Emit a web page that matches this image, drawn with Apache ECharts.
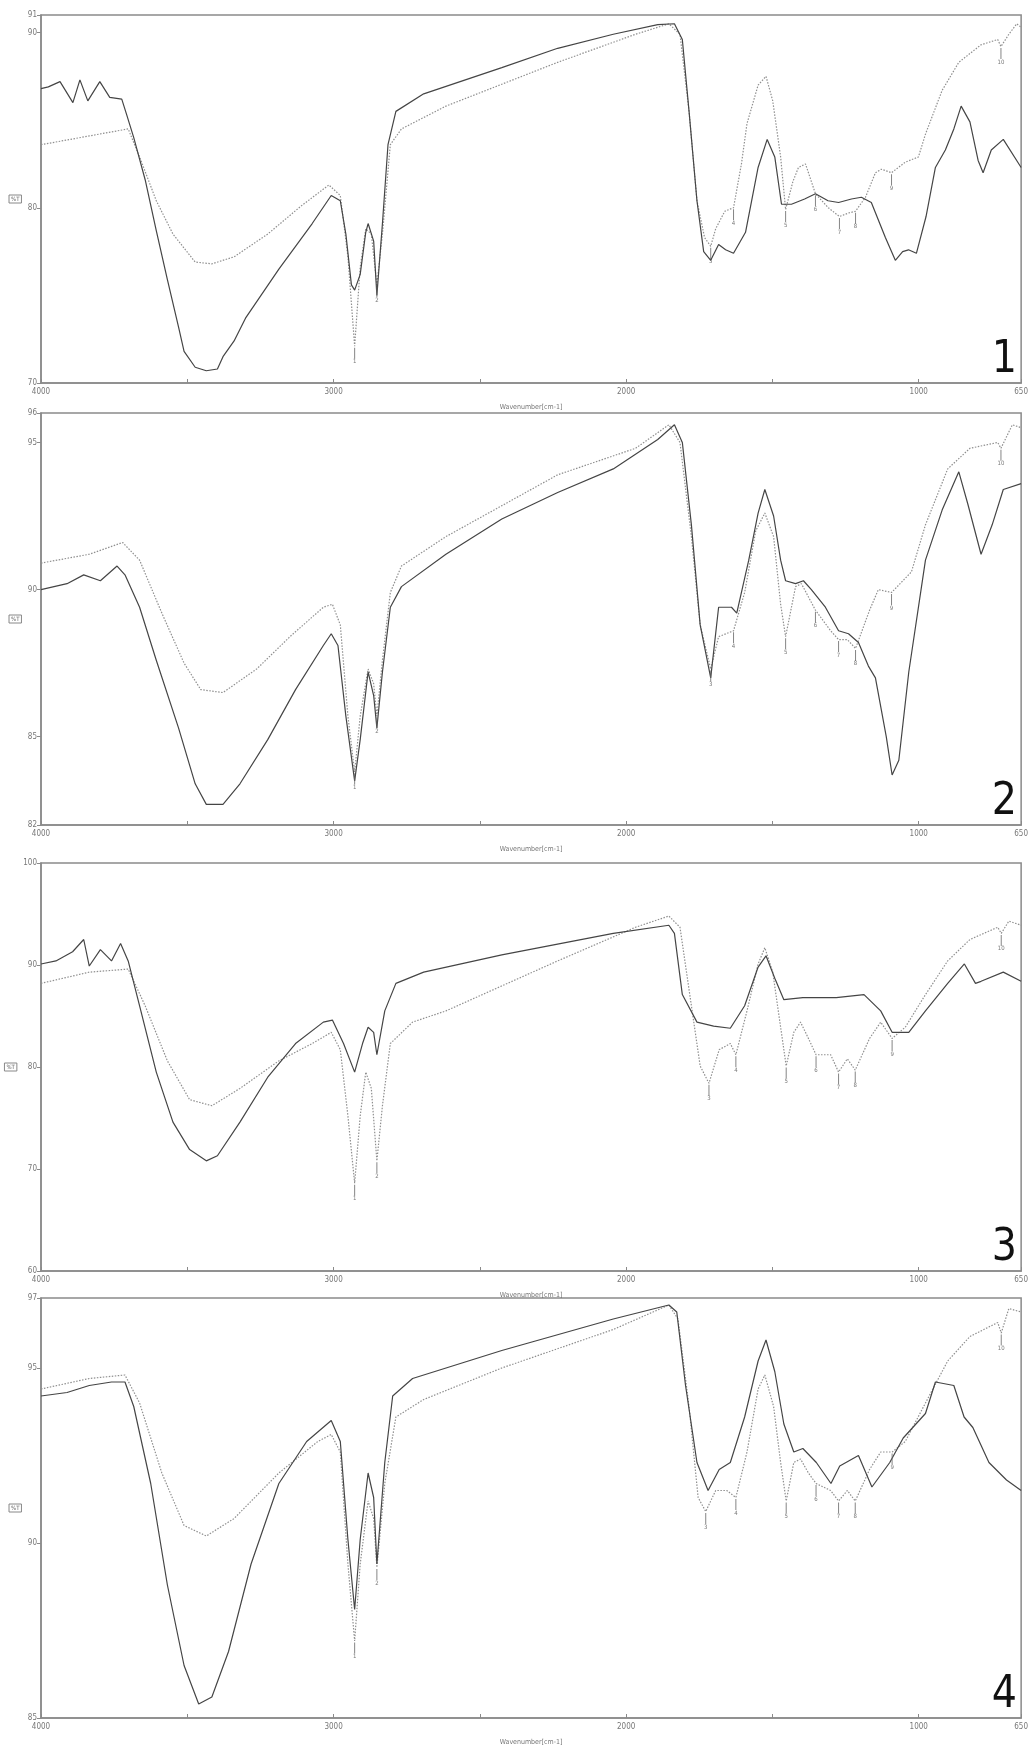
<!DOCTYPE html>
<html><head><meta charset="utf-8">
<script src="https://cdn.jsdelivr.net/npm/echarts@6/dist/echarts.min.js"></script>
<style>html,body{margin:0;padding:0;background:#fff}#c{width:1031px;height:1751px}</style>
</head><body><div id="c"></div>
<script>
// ---------- DATA ----------
const xLabelVals = [4000, 3000, 2000, 1000, 650];
const xTickVals = [4000, 3500, 3000, 2500, 2000, 1500, 1000, 650];
const panelNames = ['1', '2', '3', '4'];
const yRanges = [[70, 91], [82, 96], [60, 100], [85, 97]];
const yLabels = [[70, 80, 90, 91], [82, 85, 90, 95, 96], [60, 70, 80, 90, 100], [85, 90, 95, 97]];
const peakNums = [1, 2, 3, 4, 5, 6, 7, 8, 9, 10];

const p1Solid = [[4000,86.8],[3975,86.9],[3935,87.2],[3891,86.0],[3867,87.3],[3840,86.1],[3799,87.2],[3765,86.3],[3724,86.2],[3707,85.3],[3683,84.0],[3644,81.6],[3606,78.7],[3568,75.9],[3530,73.2],[3511,71.8],[3473,70.9],[3435,70.7],[3397,70.8],[3378,71.5],[3340,72.4],[3301,73.7],[3187,76.5],[3073,79.1],[3008,80.7],[2977,80.4],[2958,78.5],[2939,75.6],[2928,75.3],[2909,76.2],[2890,78.6],[2882,79.1],[2863,78.1],[2852,75.0],[2833,79.1],[2814,83.6],[2787,85.5],[2692,86.5],[2425,88.0],[2234,89.1],[2044,89.9],[1892,90.45],[1835,90.5],[1808,89.6],[1785,85.5],[1758,80.4],[1735,77.5],[1711,77.0],[1684,77.9],[1660,77.6],[1633,77.4],[1592,78.6],[1549,82.3],[1518,83.9],[1492,82.9],[1469,80.2],[1435,80.2],[1390,80.5],[1353,80.8],[1310,80.4],[1274,80.3],[1230,80.5],[1196,80.6],[1162,80.3],[1114,78.3],[1080,77.0],[1055,77.5],[1035,77.6],[1008,77.4],[975,79.5],[943,82.3],[909,83.3],[880,84.5],[855,85.8],[825,84.9],[797,82.7],[780,82.0],[752,83.3],[711,83.9],[650,82.3]];
const p1Dot = [[4000,83.6],[3900,83.9],[3835,84.1],[3702,84.5],[3663,82.9],[3606,80.4],[3549,78.5],[3473,76.9],[3416,76.8],[3340,77.2],[3225,78.5],[3111,80.1],[3016,81.3],[2977,80.7],[2951,77.2],[2928,72.1],[2909,76.6],[2890,78.8],[2871,78.5],[2852,75.6],[2833,78.5],[2806,83.6],[2768,84.5],[2616,85.8],[2234,88.3],[1968,89.9],[1854,90.5],[1816,89.9],[1785,85.5],[1758,80.4],[1732,78.3],[1711,77.8],[1694,78.8],[1663,79.8],[1633,80.0],[1606,82.5],[1587,84.8],[1549,87.0],[1522,87.5],[1499,86.1],[1472,82.9],[1455,79.9],[1430,81.5],[1411,82.3],[1387,82.5],[1353,80.8],[1309,80.0],[1271,79.5],[1240,79.7],[1216,79.8],[1182,80.6],[1148,82.0],[1128,82.2],[1093,82.0],[1046,82.6],[1001,82.9],[977,84.2],[920,86.7],[863,88.3],[787,89.3],[730,89.6],[719,89.2],[692,89.9],[665,90.5],[650,90.3]];
const p1PeakWn = [2928, 2852, 1711, 1633, 1455, 1353, 1271, 1216, 1093, 719];
const p1PeakT = [72.1, 75.6, 77.8, 80.0, 79.9, 80.8, 79.5, 79.8, 82.0, 89.2];

const p2Solid = [[4000,90.0],[3911,90.2],[3854,90.5],[3797,90.3],[3740,90.8],[3713,90.5],[3663,89.4],[3606,87.6],[3530,85.3],[3473,83.4],[3435,82.7],[3378,82.7],[3320,83.4],[3225,84.9],[3130,86.6],[3035,88.1],[3008,88.5],[2985,88.1],[2958,85.7],[2928,83.5],[2909,84.9],[2882,87.2],[2863,86.4],[2852,85.3],[2833,87.2],[2806,89.4],[2768,90.1],[2616,91.2],[2425,92.4],[2234,93.3],[2044,94.1],[1892,95.1],[1835,95.6],[1808,95.0],[1777,92.2],[1747,88.8],[1711,87.0],[1684,89.4],[1640,89.4],[1622,89.2],[1581,91.0],[1549,92.6],[1526,93.4],[1496,92.5],[1472,91.0],[1455,90.3],[1421,90.2],[1394,90.3],[1367,90.0],[1319,89.4],[1274,88.6],[1240,88.5],[1206,88.2],[1172,87.4],[1148,87.0],[1111,85.0],[1091,83.7],[1068,84.2],[1034,87.2],[977,91.0],[920,92.7],[863,94.0],[832,92.9],[787,91.2],[749,92.2],[711,93.4],[650,93.6]];
const p2Dot = [[4000,90.9],[3835,91.2],[3721,91.6],[3663,91.0],[3587,89.2],[3511,87.5],[3454,86.6],[3378,86.5],[3263,87.3],[3149,88.4],[3035,89.4],[3004,89.5],[2977,88.8],[2951,85.7],[2928,83.8],[2909,85.7],[2882,87.3],[2863,86.8],[2852,85.7],[2833,87.6],[2806,89.9],[2768,90.8],[2616,91.8],[2234,93.9],[1968,94.8],[1854,95.6],[1816,95.0],[1777,91.8],[1747,88.8],[1711,87.3],[1684,88.4],[1633,88.6],[1595,89.9],[1557,92.0],[1526,92.6],[1496,91.8],[1472,89.5],[1455,88.4],[1421,90.1],[1401,90.2],[1353,89.3],[1301,88.6],[1274,88.3],[1244,88.3],[1216,88.0],[1168,89.3],[1138,90.0],[1093,89.9],[1025,90.6],[977,92.2],[901,94.1],[825,94.8],[730,95.0],[719,94.8],[680,95.6],[650,95.5]];
const p2PeakWn = [2928, 2852, 1711, 1633, 1455, 1353, 1274, 1216, 1093, 719];
const p2PeakT = [83.8, 85.7, 87.3, 88.6, 88.4, 89.3, 88.3, 88.0, 89.9, 94.8];

const p3Solid = [[4000,90.1],[3949,90.4],[3892,91.3],[3854,92.5],[3835,89.9],[3797,91.5],[3759,90.4],[3728,92.1],[3702,90.4],[3663,86.0],[3606,79.5],[3549,74.6],[3492,71.9],[3435,70.8],[3397,71.3],[3320,74.6],[3225,79.0],[3130,82.3],[3035,84.4],[3004,84.6],[2966,82.3],[2928,79.5],[2901,82.3],[2882,83.9],[2863,83.4],[2852,81.2],[2825,85.5],[2787,88.2],[2692,89.3],[2425,91.0],[2044,93.1],[1854,93.9],[1835,93.1],[1808,87.1],[1758,84.4],[1701,84.0],[1644,83.8],[1595,86.0],[1549,89.8],[1522,90.9],[1492,88.7],[1461,86.6],[1396,86.8],[1282,86.8],[1187,87.1],[1130,85.5],[1091,83.4],[1034,83.4],[977,85.5],[901,88.2],[844,90.1],[806,88.2],[787,88.4],[711,89.3],[650,88.4]];
const p3Dot = [[4000,88.2],[3835,89.3],[3702,89.6],[3644,86.0],[3568,80.6],[3492,76.8],[3416,76.2],[3320,77.9],[3187,80.6],[3073,82.3],[3008,83.4],[2977,81.7],[2951,75.2],[2928,68.6],[2909,75.2],[2890,79.5],[2871,77.9],[2852,70.8],[2833,76.2],[2806,82.3],[2730,84.4],[2616,85.5],[2234,90.4],[1968,93.7],[1854,94.8],[1816,93.7],[1777,86.0],[1747,80.1],[1717,78.4],[1682,81.7],[1644,82.3],[1625,81.2],[1587,85.5],[1549,90.1],[1526,91.7],[1499,89.3],[1472,83.9],[1453,80.1],[1427,83.4],[1404,84.4],[1377,82.8],[1351,81.2],[1301,81.2],[1274,79.5],[1244,80.8],[1217,79.7],[1168,82.8],[1130,84.4],[1091,82.8],[1046,83.9],[977,87.1],[901,90.4],[825,92.5],[730,93.7],[718,93.1],[692,94.3],[650,93.9]];
const p3PeakWn = [2928, 2852, 1717, 1625, 1453, 1351, 1274, 1217, 1091, 718];
const p3PeakT = [68.6, 70.8, 78.4, 81.2, 80.1, 81.2, 79.5, 79.7, 82.8, 93.1];

const p4Solid = [[4000,94.2],[3911,94.3],[3835,94.5],[3759,94.6],[3713,94.6],[3683,93.9],[3625,91.7],[3568,88.8],[3511,86.5],[3461,85.4],[3416,85.6],[3359,86.9],[3282,89.4],[3187,91.7],[3092,92.9],[3008,93.5],[2977,92.9],[2951,90.1],[2928,88.1],[2909,90.1],[2882,92.0],[2863,91.3],[2852,89.4],[2825,92.3],[2798,94.2],[2730,94.7],[2425,95.5],[2044,96.4],[1854,96.8],[1827,96.6],[1797,94.5],[1758,92.3],[1720,91.5],[1682,92.1],[1644,92.3],[1595,93.6],[1549,95.2],[1522,95.8],[1492,94.9],[1461,93.4],[1427,92.6],[1396,92.7],[1350,92.3],[1300,91.7],[1270,92.2],[1206,92.5],[1160,91.6],[1099,92.3],[1053,93.0],[977,93.7],[943,94.6],[880,94.5],[845,93.6],[815,93.3],[760,92.3],[700,91.8],[650,91.5]];
const p4Dot = [[4000,94.4],[3835,94.7],[3713,94.8],[3663,94.0],[3587,92.0],[3511,90.5],[3435,90.2],[3340,90.7],[3187,92.0],[3054,92.9],[3008,93.1],[2977,92.6],[2951,89.4],[2928,87.2],[2909,89.4],[2882,91.2],[2863,90.7],[2852,89.3],[2825,91.7],[2787,93.6],[2692,94.1],[2425,95.0],[2044,96.1],[1854,96.8],[1823,96.4],[1785,93.9],[1754,91.3],[1728,90.9],[1694,91.5],[1656,91.5],[1625,91.3],[1587,92.6],[1549,94.4],[1526,94.8],[1496,93.9],[1472,92.3],[1453,91.2],[1427,92.3],[1404,92.4],[1377,92.0],[1351,91.7],[1301,91.5],[1274,91.2],[1244,91.5],[1217,91.2],[1168,92.1],[1130,92.6],[1091,92.6],[1046,92.9],[977,94.0],[901,95.2],[825,95.9],[730,96.3],[718,96.0],[692,96.7],[650,96.6]];
const p4PeakWn = [2928, 2852, 1728, 1625, 1453, 1351, 1274, 1217, 1091, 718];
const p4PeakT = [87.2, 89.3, 90.9, 91.3, 91.2, 91.7, 91.2, 91.2, 92.6, 96.0];

const solids = [p1Solid, p2Solid, p3Solid, p4Solid];
const dots = [p1Dot, p2Dot, p3Dot, p4Dot];
const peakWns = [p1PeakWn, p2PeakWn, p3PeakWn, p4PeakWn];
const peakTs = [p1PeakT, p2PeakT, p3PeakT, p4PeakT];

// ---------- LAYOUT ----------
const gridBoxes = [{top: 15, height: 368}, {top: 413, height: 412}, {top: 863, height: 408}, {top: 1298, height: 420}];
const LEFT = 41, RIGHT = 8;
const FONT = '"DejaVu Sans Condensed", "Liberation Sans Narrow", "Roboto Condensed", sans-serif';
const AX = '#8a8a8a';

const chart = echarts.init(document.getElementById('c'), null, {renderer: 'canvas'});
const grid = [], xAxis = [], yAxis = [], series = [], graphic = [];
for (let i = 0; i < 4; i++) {
  grid.push({left: LEFT, right: RIGHT, top: gridBoxes[i].top, height: gridBoxes[i].height,
    show: true, borderColor: AX, borderWidth: 1.5, backgroundColor: '#fff'});
  xAxis.push({type: 'value', gridIndex: i, min: 650, max: 4000, inverse: true,
    name: 'Wavenumber[cm-1]', nameLocation: 'middle', nameGap: 21,
    nameTextStyle: {fontSize: 7, color: '#777', fontFamily: FONT},
    axisLine: {show: true, lineStyle: {color: AX, width: 1.5}},
    axisTick: {show: true, inside: true, length: 4, customValues: xTickVals, lineStyle: {color: AX}},
    axisLabel: {show: true, customValues: xLabelVals, fontSize: 8, color: '#777', margin: 5, fontFamily: FONT,
      formatter: v => String(v)},
    splitLine: {show: false}});
  yAxis.push({type: 'value', gridIndex: i, min: yRanges[i][0], max: yRanges[i][1],
    name: '%T', nameLocation: 'middle', nameGap: 16, nameRotate: 0,
    nameTextStyle: {fontSize: 6, color: '#666', borderColor: '#888', borderWidth: 1, padding: [1, 2], fontFamily: FONT},
    axisLine: {show: true, lineStyle: {color: AX, width: 1.5}},
    axisTick: {show: true, inside: false, length: 4, customValues: yLabels[i], lineStyle: {color: AX}},
    axisLabel: {show: true, customValues: yLabels[i], fontSize: 8, color: '#777', margin: 4, fontFamily: FONT,
      formatter: v => String(v)},
    splitLine: {show: false}});
  series.push({type: 'line', xAxisIndex: i, yAxisIndex: i, data: dots[i], showSymbol: false, silent: true,
    lineStyle: {color: '#8f8f8f', width: 1.2, type: [1.5, 1.5]}, z: 2});
  series.push({type: 'line', xAxisIndex: i, yAxisIndex: i, data: solids[i], showSymbol: false, silent: true,
    lineStyle: {color: '#454545', width: 1.2}, z: 3});
  series.push({type: 'scatter', xAxisIndex: i, yAxisIndex: i, silent: true,
    data: peakWns[i].map((w, k) => [w, peakTs[i][k], peakNums[k]]),
    symbol: 'rect', symbolSize: [1, 11], symbolOffset: [0, 7],
    itemStyle: {color: '#666'},
    label: {show: true, position: 'bottom', distance: 0, fontSize: 6, color: '#555', fontFamily: FONT,
      formatter: p => String(p.value[2])}, z: 4});
  graphic.push({type: 'text', right: 14, top: gridBoxes[i].top + gridBoxes[i].height - 44,
    style: {text: panelNames[i], fontSize: 44, fill: '#111', fontFamily: FONT}, z: 10});
}
chart.setOption({animation: false, backgroundColor: '#fff', grid, xAxis, yAxis, series, graphic});
</script></body></html>
